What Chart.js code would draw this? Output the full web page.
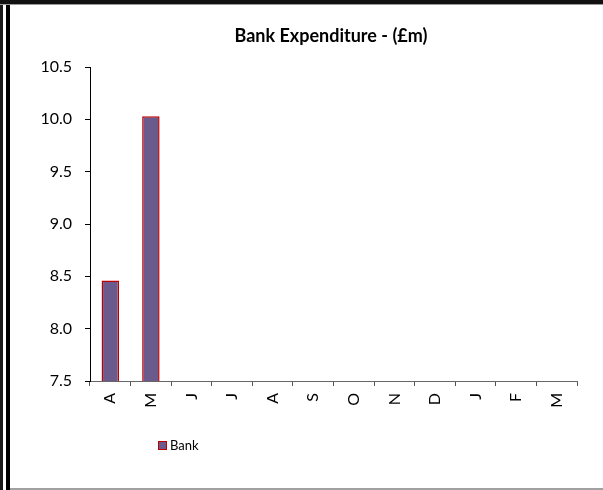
<!DOCTYPE html>
<html lang="en">
  <head>
    <meta charset="UTF-8">
    <title>Bank Expenditure</title>
    <script src="https://cdn.jsdelivr.net/npm/chart.js"></script>
    <style>
      body {
        margin: 0;
        padding: 0;
        background: #ffffff;
        overflow: hidden;
        font-family: Lato, sans-serif;
      }

      .frame {
        position: relative;
        width: 603px;
        height: 490px;
      }

      .chart-box {
        position: absolute;
        left: 0;
        top: 0;
        width: 603px;
        height: 490px;
      }

      .title {
        position: absolute;
        left: 0;
        top: 25px;
        width: 662px; /* centred over x = 331 like the original */
        text-align: center;
        font-weight: bold;
        font-size: 18px;
        line-height: 21.6px;
        color: #000;
      }

      /* frame edges of the original sheet */
      .edge { position: absolute; pointer-events: none; }
      .edge-l1 { left: 0; top: 0; width: 3px; height: 490px; background: #1a1a1a; }
      .edge-l2 { left: 6px; top: 0; width: 4px; height: 490px; background: #000; }
      .edge-t { left: 0; top: 0; width: 603px; height: 4px; background: #111; border-bottom: 1px solid #999; }
      .edge-b { left: 10px; top: 488px; width: 593px; height: 2px; background: #a0a0a0; }

      .legend {
        position: absolute;
        left: 158px;
        top: 437px;
        font-size: 13px;
        color: #000;
        display: flex;
        align-items: center;
      }

      .legend span.box {
        display: inline-block;
        width: 7px;
        height: 7px;
        background: #6b5a8c;
        border: 1.5px solid #c00000;
        margin-right: 3px;
      }
    </style>
  </head>

  <body>
    <div class="frame">
      <div class="chart-box">
        <canvas id="bankChart"></canvas>
      </div>
      <div class="title">Bank Expenditure - (£m)</div>
      <div class="legend"><span class="box"></span>Bank</div>
      <div class="edge edge-l1"></div>
      <div class="edge edge-l2"></div>
      <div class="edge edge-t"></div>
      <div class="edge edge-b"></div>
    </div>

    <script>
      // months of the financial year (April to March)
      const months = ['A', 'M', 'J', 'J', 'A', 'S', 'O', 'N', 'D', 'J', 'F', 'M'];
      // bank spend in £m, only two months so far
      const bankSpend = [8.46, 10.03, null, null, null, null, null, null, null, null, null, null];
      const yMin = 7.5;
      const yMax = 10.5;
      const yStep = 0.5;

      const ctx = document.getElementById('bankChart').getContext('2d');
      new Chart(ctx, {
        type: 'bar',
        data: {
          labels: months,
          datasets: [{
            label: 'Bank',
            data: bankSpend,
            backgroundColor: '#6b5a8c',
            borderColor: '#c00000',
            borderWidth: 1.5,
            categoryPercentage: 1.0,
            barPercentage: 0.43,
          }],
        },
        options: {
          responsive: true,
          maintainAspectRatio: false,
          animation: false,
          layout: {
            padding: { left: 30, right: 26, top: 67, bottom: 69 },
          },
          plugins: {
            legend: { display: false },
            tooltip: { enabled: false },
            title: { display: false },
          },
          scales: {
            x: {
              grid: {
                offset: true,
                drawOnChartArea: false,
                drawTicks: true,
                tickLength: 5,
                color: '#555',
              },
              border: { color: '#666', width: 1 },
              ticks: {
                color: '#000',
                font: { family: 'Lato', size: 16 },
                minRotation: 90,
                maxRotation: 90,
                padding: 7,
                autoSkip: false,
              },
              afterFit: (scale) => { scale.height = 40; },
            },
            y: {
              min: yMin,
              max: yMax,
              grid: {
                drawOnChartArea: false,
                drawTicks: true,
                tickLength: 5,
                color: '#000',
              },
              border: { color: '#000', width: 1 },
              ticks: {
                stepSize: yStep,
                color: '#000',
                font: { family: 'Lato', size: 16 },
                padding: 13,
                callback: (v) => Number(v).toFixed(1),
              },
              afterFit: (scale) => { scale.width = 60; },
            },
          },
        },
      });
    </script>
  </body>
</html>
